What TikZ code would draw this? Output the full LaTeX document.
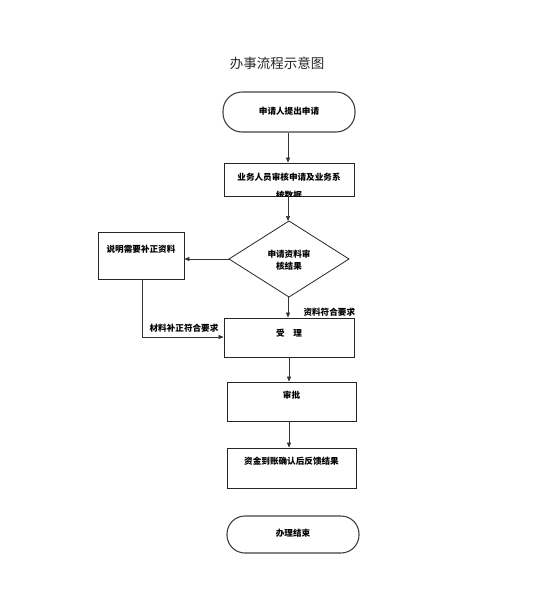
\documentclass[tikz,border=0pt]{standalone}
\usepackage{fontspec}
\setmainfont{Noto Sans CJK SC}
\usetikzlibrary{arrows.meta,shapes.geometric}
\begin{document}
\begin{tikzpicture}[x=1pt,y=-1pt,
  lbl/.style={font=\fontsize{8.6}{10}\selectfont\bfseries, text=black},
  box/.style={draw=black!85, line width=0.8pt, inner sep=0pt},
  term/.style={draw=black!75, line width=1.1pt, rounded corners=19pt, inner sep=0pt},
  arr/.style={draw=black!80, line width=0.7pt, -{Triangle[length=5pt,width=4pt]}},
  ln/.style={draw=black!80, line width=0.7pt}]
\useasboundingbox (0,0) rectangle (555,600);
\node[font=\fontsize{13.5}{15}\selectfont, text=black!85] (title) at (277,63) {办事流程示意图};
% start
\node[term, minimum width=132pt, minimum height=40pt] (start) at (289,112) {};
\node[lbl] (starttxt) at (289,111) {申请人提出申请};
% box2
\node[box, minimum width=130pt, minimum height=33pt] (b2) at (289,179.5) {};
\node[lbl] (b2a) at (289,177) {业务人员审核申请及业务系};
\begin{scope}
\clip (b2.south west) rectangle (b2.north east);
\node[lbl] (b2b) at (289,195) {统数据};
\end{scope}
% diamond
\coordinate (dt) at (289,221);
\coordinate (db) at (289,297);
\coordinate (dl) at (229,259);
\coordinate (dr) at (349,259);
\draw[box] (dt) -- (dr) -- (db) -- (dl) -- cycle;
\node[lbl, align=center] (dtxt) at (289,260) {申请资料审\\[2pt]核结果};
% left box
\node[box, minimum width=86pt, minimum height=47pt] (lb) at (141,255.5) {};
\node[lbl] (lbtxt) at (141,249) {说明需要补正资料};
% accept
\node[box, minimum width=130pt, minimum height=39pt] (acc) at (289,337.5) {};
\node[lbl] (acctxt) at (289,333) {受\hspace{1em}理};
% approve
\node[box, minimum width=129pt, minimum height=39pt] (apr) at (291.5,401.5) {};
\node[lbl] (aprtxt) at (291.5,395) {审批};
% funds
\node[box, minimum width=129pt, minimum height=40pt] (fund) at (291.5,468) {};
\node[lbl] (fundtxt) at (291.5,461) {资金到账确认后反馈结果};
% end
\node[term, minimum width=132pt, minimum height=37pt, rounded corners=18pt] (end) at (293,534.5) {};
\node[lbl] (endtxt) at (293,533) {办理结束};
% connectors
\draw[arr] (start.south -| 288,0) -- (b2.north -| 288,0);
\draw[arr] (b2.south -| 288,0) -- (dt -| 288,0);
\draw[arr] (dl) -- (dl -| lb.east);
\draw[arr] (db -| 288,0) -- (acc.north -| 288,0);
\node[lbl, anchor=west] (ok) at (300,312) {资料符合要求};
\coordinate (lbbot) at (lb.south -| 142,0);
\coordinate (corner) at (142,337);
\draw[arr] (lbbot) -- (corner) -- (corner -| acc.west);
\node[lbl] (fix) at (184,328) {材料补正符合要求};
\draw[arr] (acc.south -| 289,0) -- (apr.north -| 289,0);
\draw[arr] (apr.south -| 289,0) -- (fund.north -| 289,0);
\end{tikzpicture}
\end{document}
